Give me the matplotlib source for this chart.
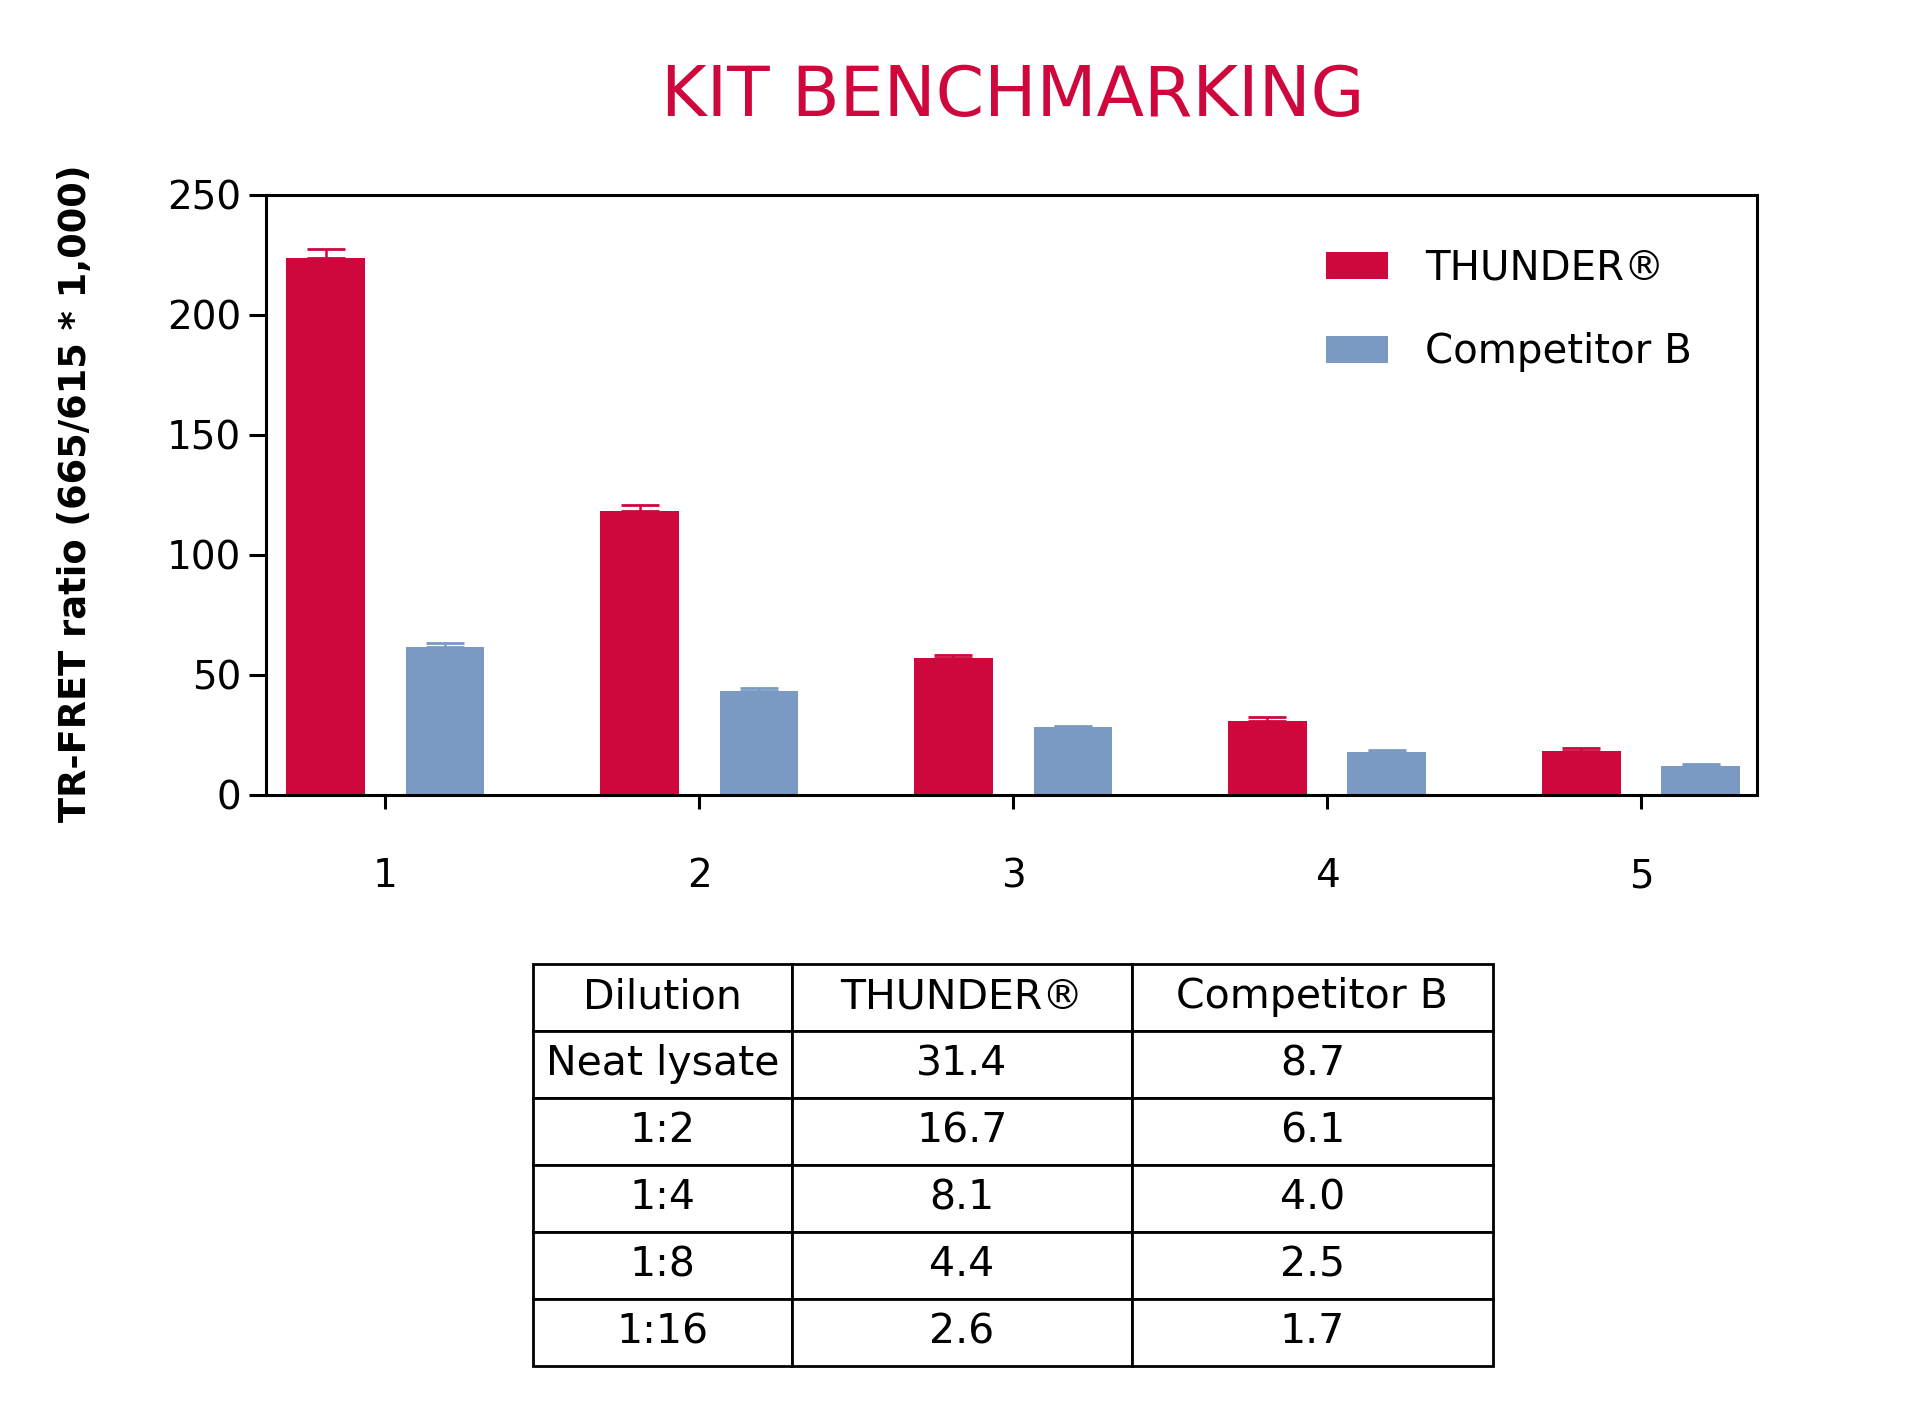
import matplotlib
matplotlib.use("Agg")
import matplotlib.pyplot as plt
import numpy as np

# ---- data ----
groups = [1, 2, 3, 4, 5]
group_labels = ["1", "2", "3", "4", "5"]
thunder = [223.5, 118.5, 56.9, 31.0, 18.4]
thunder_err = [4.0, 2.3, 1.4, 1.4, 1.0]
competitor = [61.8, 43.2, 28.2, 18.0, 12.1]
competitor_err = [1.3, 1.2, 0.7, 0.7, 0.7]
series_names = ["THUNDER®", "Competitor B"]
yticks = [0, 50, 100, 150, 200, 250]

table_header = ["Dilution", "THUNDER®", "Competitor B"]
dilutions = ["Neat lysate", "1:2", "1:4", "1:8", "1:16"]
thunder_fold = ["31.4", "16.7", "8.1", "4.4", "2.6"]
competitor_fold = ["8.7", "6.1", "4.0", "2.5", "1.7"]

RED = "#CE073D"
BLUE = "#7A9AC4"

plt.rcParams['font.family'] = ['DejaVu Sans']

fig = plt.figure(figsize=(19.14, 14.12), dpi=100)
ax = fig.add_axes([0.139, 0.437, 0.779, 0.425])

x = np.array(groups, dtype=float)
w = 0.25
off = 0.19
ax.bar(x - off, thunder, width=w, color=RED, label=series_names[0], zorder=2)
ax.bar(x + off, competitor, width=w, color=BLUE, label=series_names[1], zorder=2)
ax.errorbar(x - off, thunder, yerr=[np.zeros(5), thunder_err], fmt='none',
            ecolor=RED, elinewidth=1.8, capsize=13.5, capthick=2.0, zorder=1)
ax.errorbar(x + off, competitor, yerr=[np.zeros(5), competitor_err], fmt='none',
            ecolor=BLUE, elinewidth=1.8, capsize=13.5, capthick=2.0, zorder=1)

ax.set_xlim(0.62, 5.37)
ax.set_ylim(0, 250)
ax.set_yticks(yticks)
ax.set_yticklabels([str(v) for v in yticks])
ax.set_xticks(groups)
ax.set_xticklabels(group_labels)
for s in ax.spines.values():
    s.set_linewidth(2.2)
ax.tick_params(axis='y', length=12, width=2.2, pad=6, labelsize=28)
ax.tick_params(axis='x', length=10, width=2.2, pad=35, labelsize=28)

fig.text(0.0395, 0.651, "TR-FRET ratio (665/615 * 1,000)", rotation=90,
         ha='center', va='center', fontsize=26.5, fontweight='bold')
fig.text(0.529, 0.932, "KIT BENCHMARKING", ha='center', va='center',
         fontsize=50, color=RED)

leg = ax.legend(loc='upper left', bbox_to_anchor=(0.693, 0.824),
                bbox_transform=fig.transFigure, frameon=False, fontsize=29,
                handlelength=1.54, handleheight=0.65, handletextpad=0.92,
                labelspacing=1.09, borderpad=0, borderaxespad=0)

# ---- table ----
tax = fig.add_axes([0.2785, 0.0326, 0.5016, 0.2847])
tax.axis('off')
cell_text = [[d, t, c] for d, t, c in zip(dilutions, thunder_fold, competitor_fold)]
tbl = tax.table(cellText=cell_text, colLabels=table_header,
                colWidths=[0.2697, 0.3537, 0.3766], cellLoc='center',
                bbox=[0, 0, 1, 1])
tbl.auto_set_font_size(False)
tbl.set_fontsize(29.5)
for (r, c), cell in tbl.get_celld().items():
    cell.set_linewidth(2.0)
    cell.set_edgecolor('black')

fig.savefig("out.png", dpi=100)
